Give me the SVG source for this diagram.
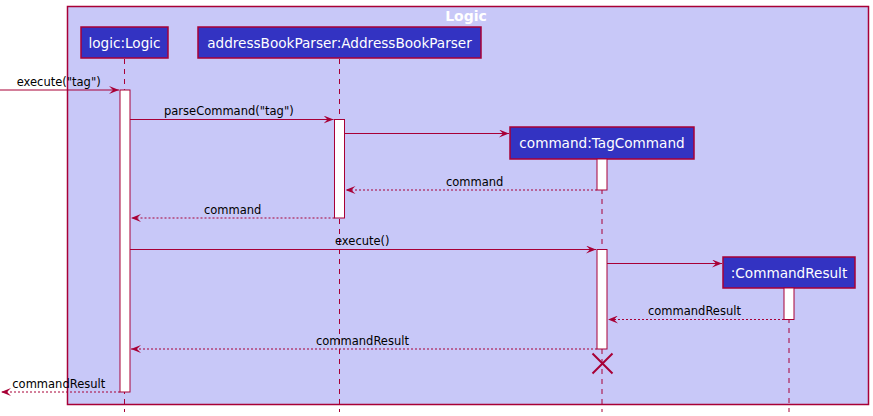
<svg xmlns="http://www.w3.org/2000/svg" width="873" height="416" viewBox="0 0 873 416">
<defs>
<style>
.part{fill:#3333C2;stroke:#A80036;stroke-width:1.5}
.ptxt{font-family:"DejaVu Sans",sans-serif;font-size:13.6px;fill:#FFFFFF;text-anchor:middle}
.life{stroke:#A80036;stroke-width:1;stroke-dasharray:5,5;fill:none}
.act{fill:#FFFFFF;stroke:#A80036;stroke-width:1}
.msg{stroke:#A80036;stroke-width:1;fill:none}
.ret{stroke:#A80036;stroke-width:1;fill:none;stroke-dasharray:2,2}
.mtxt{font-family:"DejaVu Sans",sans-serif;font-size:11.5px;fill:#000000}
</style>
<marker id="ah" viewBox="0 0 10 8" refX="10" refY="4" markerWidth="10" markerHeight="8" markerUnits="userSpaceOnUse" orient="auto">
<polygon points="0,0 10,4 0,8 4,4" fill="#A80036"/>
</marker>
</defs>
<g id="frame">
<rect x="67.5" y="6.5" width="801" height="398" fill="#C8C8F8" stroke="#A80036" stroke-width="1.5"/>
<text x="466" y="21" font-family="DejaVu Sans,sans-serif" font-size="14px" font-weight="bold" fill="#FFFFFF" text-anchor="middle">Logic</text>
</g>
<g id="lifelines">
<line class="life" x1="124.5" y1="59" x2="124.5" y2="412"/>
<line class="life" x1="339.5" y1="59" x2="339.5" y2="412"/>
<line class="life" x1="602" y1="159" x2="602" y2="412"/>
<line class="life" x1="789" y1="288" x2="789" y2="412"/>
</g>
<g id="logic">
<rect class="part" x="81" y="27" width="87" height="31"/>
<text class="ptxt" x="124.5" y="47.5">logic:Logic</text>
<rect class="act" x="120" y="90" width="10" height="302"/>
</g>
<g id="parser">
<rect class="part" x="198" y="27" width="283" height="31"/>
<text class="ptxt" x="339.5" y="47.5">addressBookParser:AddressBookParser</text>
<rect class="act" x="334.5" y="119.5" width="10" height="98.5"/>
</g>
<g id="tagcommand">
<rect class="part" x="510" y="127" width="184" height="32"/>
<text class="ptxt" x="602" y="148">command:TagCommand</text>
<rect class="act" x="597" y="159" width="10" height="31"/>
<rect class="act" x="597" y="249.5" width="10" height="99.5"/>
<path d="M592.5,353.5 L612.5,373.5 M612.5,353.5 L592.5,373.5" stroke="#A80036" stroke-width="2" fill="none"/>
</g>
<g id="commandresult">
<rect class="part" x="723" y="257" width="132" height="31"/>
<text class="ptxt" x="789" y="277.5">:CommandResult</text>
<rect class="act" x="784" y="288" width="10" height="31.5"/>
</g>
<g id="connectors">
<line class="msg" x1="0" y1="90" x2="119" y2="90" marker-end="url(#ah)"/>
<text class="mtxt" x="16.7" y="85.5">execute("tag")</text>
<line class="msg" x1="130" y1="119.5" x2="333.5" y2="119.5" marker-end="url(#ah)"/>
<text class="mtxt" x="164" y="115">parseCommand("tag")</text>
<line class="msg" x1="344.5" y1="133.5" x2="509" y2="133.5" marker-end="url(#ah)"/>
<line class="ret" x1="597" y1="190" x2="345.5" y2="190" marker-end="url(#ah)"/>
<text class="mtxt" x="446" y="185.5">command</text>
<line class="ret" x1="334.5" y1="218" x2="131" y2="218" marker-end="url(#ah)"/>
<text class="mtxt" x="204" y="213.5">command</text>
<line class="msg" x1="130" y1="249.5" x2="596" y2="249.5" marker-end="url(#ah)"/>
<text class="mtxt" x="335" y="245">execute()</text>
<line class="msg" x1="607" y1="263.5" x2="722" y2="263.5" marker-end="url(#ah)"/>
<line class="ret" x1="784" y1="319.5" x2="608" y2="319.5" marker-end="url(#ah)"/>
<text class="mtxt" x="648" y="315">commandResult</text>
<line class="ret" x1="597" y1="349" x2="131" y2="349" marker-end="url(#ah)"/>
<text class="mtxt" x="316" y="344.5">commandResult</text>
<line class="ret" x1="120" y1="392" x2="1" y2="392" marker-end="url(#ah)"/>
<text class="mtxt" x="12.3" y="387.5">commandResult</text>
</g>
</svg>
